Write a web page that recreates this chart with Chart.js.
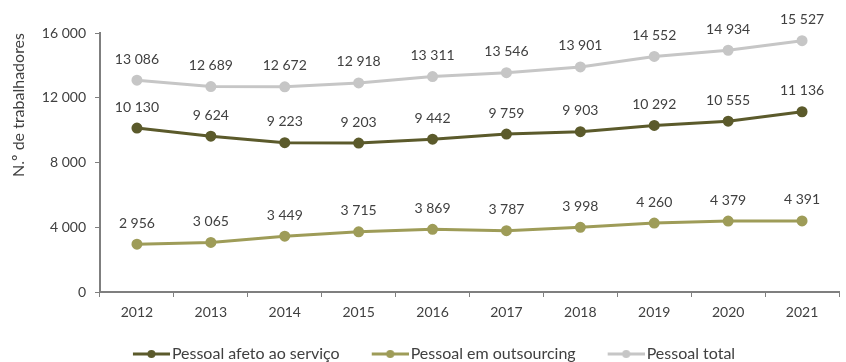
<!DOCTYPE html>
<html>
<head>
<meta charset="utf-8">
<script src="https://cdn.jsdelivr.net/npm/chart.js@4/dist/chart.umd.min.js"></script>
<style>
	html, body { margin: 0; padding: 0; background: #ffffff; }
	#wrap { width: 846px; height: 362px; position: relative; }
</style>
</head>
<body>
<div id="wrap"><canvas id="chart"></canvas></div>
<script>
// Chart data
const years = ["2012", "2013", "2014", "2015", "2016", "2017", "2018", "2019", "2020", "2021"];
const afetoServico = [10130, 9624, 9223, 9203, 9442, 9759, 9903, 10292, 10555, 11136];
const outsourcing = [2956, 3065, 3449, 3715, 3869, 3787, 3998, 4260, 4379, 4391];
const pessoalTotal = [13086, 12689, 12672, 12918, 13311, 13546, 13901, 14552, 14934, 15527];
const yTicks = [0, 4000, 8000, 12000, 16000];

const TEXT = "#404040";
const FONT = { family: "Lato", size: 14 };
const FONT_L = { family: "Lato", size: 16 };

// legend symbol box width (line+dot marker sits at its right end)
const BOX_W = 53;
// legend pushed a little lower than Chart.js puts it
const BOTTOM_SHIFT = 10;

// "13 086" style thousands separator
const fmt = (v) => String(v).replace(/\B(?=(\d{3})+(?!\d))/g, " ");

/**
 * Line+dot marker used as legend symbol
 */
const makeMarker = (color) => {
	const c = document.createElement("canvas");
	c.width = BOX_W + 12;
	c.height = 10;
	const ctx = c.getContext("2d");
	const x0 = c.width - 37;
	ctx.strokeStyle = color;
	ctx.lineWidth = 3;
	ctx.beginPath();
	ctx.moveTo(x0, 5);
	ctx.lineTo(c.width, 5);
	ctx.stroke();
	ctx.fillStyle = color;
	ctx.beginPath();
	ctx.arc(x0 + 18.5, 5, 4, 0, Math.PI * 2);
	ctx.fill();
	return c;
};

// Value labels above each point
const pointLabels = {
	id: "pointLabels",
	afterDatasetsDraw(chart) {
		const ctx = chart.ctx;
		ctx.save();
		ctx.font = `${FONT.size}px ${FONT.family}`;
		ctx.fillStyle = TEXT;
		ctx.textAlign = "center";
		ctx.textBaseline = "middle";
		chart.data.datasets.forEach((ds, i) => {
			chart.getDatasetMeta(i).data.forEach((pt, j) => {
				ctx.fillText(fmt(ds.data[j]), pt.x, pt.y - 21);
			});
		});
		ctx.restore();
	},
};

const series = [
	{ label: "Pessoal afeto ao serviço", data: afetoServico, color: "#5b5a2b" },
	{ label: "Pessoal em outsourcing", data: outsourcing, color: "#9e9c58" },
	{ label: "Pessoal total", data: pessoalTotal, color: "#c6c6c6" },
];

new Chart(document.getElementById("chart"), {
	type: "line",
	data: {
		labels: years,
		datasets: series.map((s) => ({
			label: s.label,
			data: s.data,
			borderColor: s.color,
			backgroundColor: s.color,
			borderWidth: 3,
			pointRadius: 4,
			pointHoverRadius: 4,
			tension: 0,
		})),
	},
	options: {
		responsive: true,
		maintainAspectRatio: false,
		animation: false,
		layout: { padding: { top: 33, right: 0, left: 0, bottom: -BOTTOM_SHIFT } },
		scales: {
			x: {
				offset: true,
				afterFit: (scale) => {
					const lg = scale.chart.legend;
					scale.height = 362 + BOTTOM_SHIFT - 292 - (lg ? lg.height : 36);
				},
				grid: {
					offset: true,
					drawOnChartArea: false,
					tickLength: 5,
					color: "#7f7f7f",
				},
				border: { color: "#7f7f7f", width: 2 },
				ticks: { color: TEXT, font: FONT, padding: 7 },
			},
			y: {
				min: 0,
				max: 16000,
				afterFit: (scale) => {
					scale.width = 100;
				},
				afterBuildTicks: (scale) => {
					scale.ticks = yTicks.map((v) => ({ value: v }));
				},
				grid: {
					drawOnChartArea: false,
					tickLength: 5,
					color: "#7f7f7f",
				},
				border: { color: "#7f7f7f", width: 2 },
				ticks: {
					color: TEXT,
					font: FONT,
					padding: 9,
					callback: (v) => fmt(v),
				},
				title: {
					display: true,
					text: "N.º de trabalhadores",
					color: TEXT,
					font: FONT_L,
					align: "end",
					padding: { top: 9, bottom: 0 },
				},
			},
		},
		plugins: {
			legend: {
				position: "bottom",
				labels: {
					color: TEXT,
					font: FONT_L,
					usePointStyle: true,
					pointStyleWidth: BOX_W,
					padding: 10,
					generateLabels: (chart) =>
						Chart.defaults.plugins.legend.labels
							.generateLabels(chart)
							.map((item, i) => ({
								...item,
								pointStyle: makeMarker(series[i].color),
							})),
				},
			},
			tooltip: { enabled: false },
		},
	},
	plugins: [pointLabels],
});
</script>
</body>
</html>
